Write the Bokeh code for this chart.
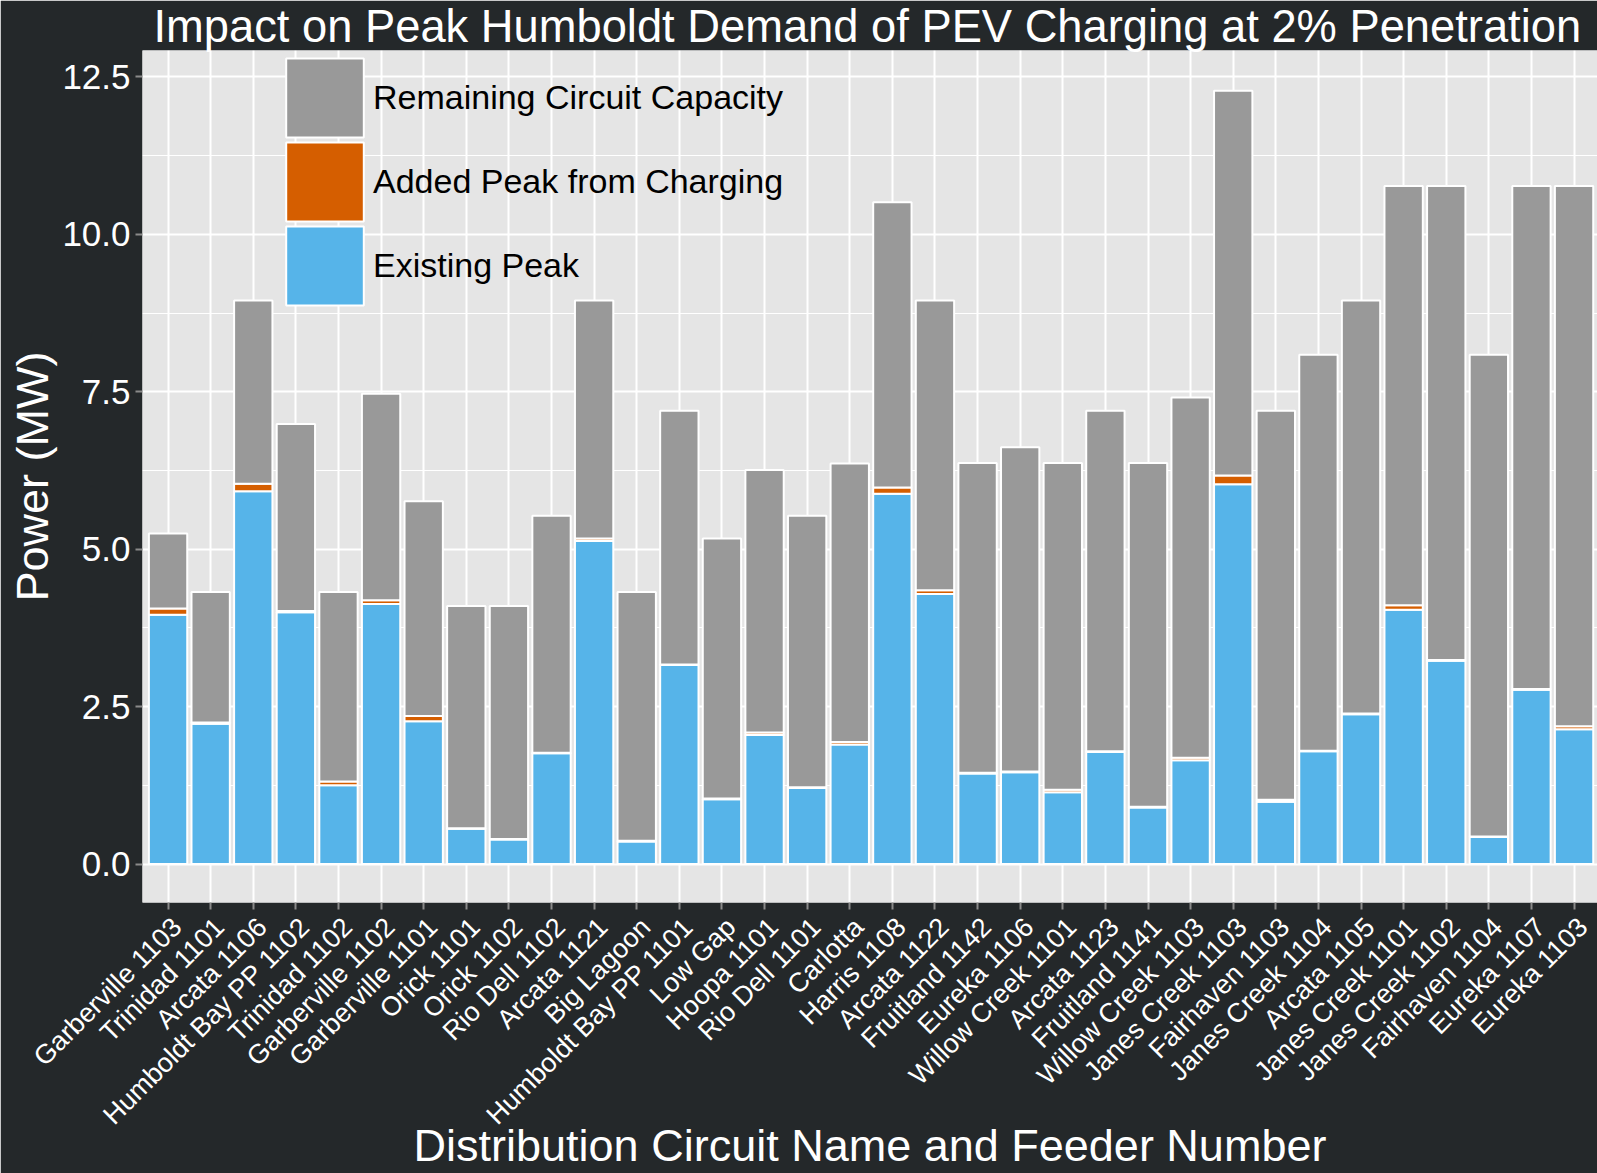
import numpy as np
from bokeh.plotting import figure
from bokeh.models import (ColumnDataSource, Range1d, FixedTicker, SingleIntervalTicker,
                          PrintfTickFormatter, Legend, LegendItem, Title, LinearAxis)
from bokeh.embed import file_html
from bokeh.resources import INLINE

# ---------------- data ----------------
circuits = [
    "Garberville 1103", "Trinidad 1101", "Arcata 1106", "Humboldt Bay PP 1102",
    "Trinidad 1102", "Garberville 1102", "Garberville 1101", "Orick 1101",
    "Orick 1102", "Rio Dell 1102", "Arcata 1121", "Big Lagoon",
    "Humboldt Bay PP 1101", "Low Gap", "Hoopa 1101", "Rio Dell 1101",
    "Carlotta", "Harris 1108", "Arcata 1122", "Fruitland 1142",
    "Eureka 1106", "Willow Creek 1101", "Arcata 1123", "Fruitland 1141",
    "Willow Creek 1103", "Janes Creek 1103", "Fairhaven 1103", "Janes Creek 1104",
    "Arcata 1105", "Janes Creek 1101", "Janes Creek 1102", "Fairhaven 1104",
    "Eureka 1107", "Eureka 1103",
]
existing_peak = [
    3.96, 2.23, 5.92, 4.00, 1.25, 4.13, 2.27, 0.56, 0.39, 1.76, 5.13, 0.36,
    3.16, 1.03, 2.05, 1.21, 1.90, 5.88, 4.29, 1.44, 1.46, 1.14, 1.78, 0.90,
    1.65, 6.03, 0.99, 1.79, 2.38, 4.04, 3.23, 0.43, 2.77, 2.14,
]
added_peak = [
    0.10, 0.02, 0.12, 0.02, 0.06, 0.06, 0.08, 0.01, 0.01, 0.01, 0.04, 0.01,
    0.01, 0.01, 0.04, 0.01, 0.04, 0.10, 0.06, 0.01, 0.01, 0.04, 0.01, 0.01,
    0.04, 0.14, 0.03, 0.01, 0.01, 0.07, 0.01, 0.01, 0.01, 0.05,
]
circuit_capacity = [
    5.25, 4.32, 8.95, 6.99, 4.32, 7.47, 5.76, 4.10, 4.10, 5.53, 8.95, 4.32,
    7.20, 5.17, 6.26, 5.53, 6.36, 10.51, 8.95, 6.37, 6.62, 6.37, 7.20, 6.37,
    7.41, 12.28, 7.20, 8.09, 8.95, 10.77, 10.77, 8.09, 10.77, 10.77,
]
series_labels = ["Existing Peak", "Added Peak from Charging", "Remaining Circuit Capacity"]
series_colors = ["#56B4E9", "#D55E00", "#999999"]

title_text = "Impact on Peak Humboldt Demand of PEV Charging at 2% Penetration"
x_title = "Distribution Circuit Name and Feeder Number"
y_title = "Power (MW)"

# ---------------- derived ----------------
xpos = list(range(1, len(circuits) + 1))
remaining = [round(c - e - a, 3) for c, e, a in zip(circuit_capacity, existing_peak, added_peak)]
source = ColumnDataSource(dict(x=xpos, existing=existing_peak, added=added_peak, remaining=remaining))

FONT = "Liberation Sans"
W, H = 1597, 1173
FL, FB = 142, 271          # frame left border, bottom border
X0, X1 = 0.4, 34.55
LABEL_SHIFT = 0.21         # rotated labels hang from their top-right corner

p = figure(width=W, height=H, output_backend="svg", toolbar_location=None,
           x_range=Range1d(X0, X1), y_range=Range1d(-0.61, 12.92),
           min_border_left=FL, min_border_right=0, min_border_top=0, min_border_bottom=FB)
p.extra_x_ranges = {"labels": Range1d(X0 - LABEL_SHIFT, X1 - LABEL_SHIFT)}

p.title = Title(text=title_text, align="left", offset=11, standoff=-3,
                text_font=FONT, text_font_size="45.3px", text_font_style="normal",
                text_color="white")

p.border_fill_color = "#24282a"
p.background_fill_color = "#E5E5E5"
p.outline_line_color = None

rs = p.vbar_stack(["existing", "added", "remaining"], x="x", width=0.9, source=source,
                  fill_color=series_colors, line_color="white", line_width=2)

# x axis 1: tick marks only (labels switched off)
xa = p.xaxis[0]
xa.ticker = FixedTicker(ticks=xpos)
# x axis 2: the circuit names
xl = LinearAxis(x_range_name="labels", ticker=FixedTicker(ticks=xpos),
                major_label_overrides={i: name for i, name in zip(xpos, circuits)},
                major_label_orientation=np.pi / 4)
p.add_layout(xl, "below")

p.yaxis.ticker = SingleIntervalTicker(interval=2.5, num_minor_ticks=2)
p.yaxis.formatter = PrintfTickFormatter(format="%.1f")

for ax in (xa, xl, p.yaxis[0]):
    ax.axis_line_color = None
    ax.major_tick_line_color = "#8a8a8a"
    ax.major_tick_line_width = 2
    ax.major_tick_out = 7
    ax.major_tick_in = 0
    ax.minor_tick_line_color = None
    ax.major_label_text_color = "white"
    ax.major_label_text_font = FONT
    ax.axis_label_text_font = FONT
    ax.axis_label_text_font_style = "normal"
    ax.axis_label_text_font_size = "45px"
    ax.axis_label_text_color = "white"
xa.major_label_text_color = None
xa.major_label_standoff = 0
xl.major_tick_line_color = None
xl.major_tick_out = 0
xl.major_label_text_font_size = "27px"
xl.major_label_standoff = 13
xl.axis_label = x_title
xl.axis_label_standoff = -24
p.yaxis.major_label_text_font_size = "35px"
p.yaxis.major_label_standoff = 5
p.yaxis.axis_label = y_title
p.yaxis.axis_label_standoff = 1

# grids
p.xgrid.ticker = FixedTicker(ticks=xpos)
p.xgrid.grid_line_color = "white"
p.xgrid.grid_line_width = 2
p.ygrid.grid_line_color = "white"
p.ygrid.grid_line_width = 2
p.ygrid.minor_grid_line_color = "white"
p.ygrid.minor_grid_line_width = 1

# legend: one single-item legend per key so the keys can sit close together
legend_rows = [(2, 755), (1, 671), (0, 587)]
for idx, ly in legend_rows:
    lg = Legend(items=[LegendItem(label=series_labels[idx], renderers=[rs[idx]])],
                location=(134, ly), glyph_width=97, glyph_height=99, label_height=99,
                spacing=0, padding=0, margin=0, label_standoff=0,
                border_line_color=None, background_fill_alpha=0,
                label_text_font=FONT, label_text_font_size="34px", label_text_color="black")
    p.add_layout(lg)

open("out.html", "w").write(file_html(p, INLINE))
